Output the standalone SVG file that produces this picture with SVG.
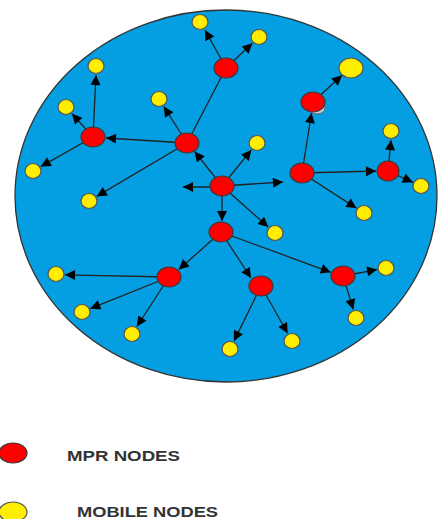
<svg xmlns="http://www.w3.org/2000/svg" width="438" height="519" viewBox="0 0 438 519">
<defs>
<style>
.area{fill:#049fe2;stroke:#333;stroke-width:1.3}
.mpr{fill:#f00;stroke:#3a3a3a;stroke-width:1.2}
.mob{fill:#ffee00;stroke:#555;stroke-width:1.2}
.c line{stroke:#222;stroke-width:1.3;marker-end:url(#ah)}
.c line.plain{marker-end:none}
.lbl{font-family:"Liberation Sans",Arial,sans-serif;font-weight:bold;font-size:15.5px;fill:#333}
</style>
<marker id="ah" viewBox="0 0 10 10" refX="10" refY="5" markerUnits="userSpaceOnUse" markerWidth="12" markerHeight="10" orient="auto">
<path d="M0,0 L10,5 L0,10 z" fill="#000"/>
</marker>
</defs>
<rect width="438" height="519" fill="#fff"/>
<ellipse class="area" cx="226" cy="196" rx="211" ry="186"/>
<ellipse cx="317" cy="108" rx="8" ry="6" fill="#ccc" stroke="#666" stroke-width="1"/>
<g id="connectors" class="c">
<line x1="226" y1="68" x2="205" y2="30"/>
<line x1="226" y1="68" x2="252.4" y2="43.2"/>
<line class="plain" x1="187" y1="143" x2="226" y2="68"/>
<line x1="187" y1="143" x2="106" y2="138"/>
<line x1="93" y1="137" x2="96" y2="75"/>
<line x1="93" y1="137" x2="72" y2="113.8"/>
<line x1="93" y1="137" x2="40.8" y2="166.6"/>
<line x1="187" y1="143" x2="163.8" y2="106.6"/>
<line x1="187" y1="143" x2="96.7" y2="196.4"/>
<line x1="222" y1="186" x2="194.6" y2="151.5"/>
<line x1="222" y1="187" x2="183" y2="187"/>
<line x1="222" y1="186" x2="283" y2="182"/>
<line x1="222" y1="186" x2="251.3" y2="150"/>
<line x1="222" y1="186" x2="268.3" y2="227"/>
<line x1="222" y1="186" x2="222" y2="221"/>
<line x1="302" y1="173" x2="311.5" y2="113"/>
<line x1="302" y1="173" x2="376" y2="171"/>
<line x1="302" y1="173" x2="356.4" y2="208.1"/>
<line x1="313" y1="102" x2="342" y2="75.3"/>
<line x1="388" y1="171" x2="391" y2="140"/>
<line x1="388" y1="171" x2="412.8" y2="182.3"/>
<line x1="221" y1="232" x2="178.8" y2="269.5"/>
<line x1="221" y1="232" x2="251" y2="278"/>
<line x1="221" y1="232" x2="330.8" y2="272.3"/>
<line x1="169" y1="277" x2="65" y2="274.8"/>
<line x1="169" y1="277" x2="90.3" y2="308.6"/>
<line x1="169" y1="277" x2="136.9" y2="326.5"/>
<line x1="261" y1="286" x2="234" y2="340.9"/>
<line x1="261" y1="286" x2="287.6" y2="333.2"/>
<line x1="343" y1="276" x2="377.1" y2="269.6"/>
<line x1="343" y1="276" x2="353.3" y2="309.4"/>
</g>
<g id="mpr1"><ellipse class="mpr" cx="226" cy="68" rx="12" ry="10"/></g>
<g id="mpr2"><ellipse class="mpr" cx="93" cy="137" rx="12" ry="10"/></g>
<g id="mpr3"><ellipse class="mpr" cx="187" cy="143" rx="12" ry="10"/></g>
<g id="mpr4"><ellipse class="mpr" cx="222" cy="186" rx="12" ry="10"/></g>
<g id="mpr5"><ellipse class="mpr" cx="313" cy="102" rx="12" ry="10"/></g>
<g id="mpr6"><ellipse class="mpr" cx="302" cy="173" rx="12" ry="10"/></g>
<g id="mpr7"><ellipse class="mpr" cx="388" cy="171" rx="11" ry="10"/></g>
<g id="mpr8"><ellipse class="mpr" cx="221" cy="232" rx="12" ry="10"/></g>
<g id="mpr9"><ellipse class="mpr" cx="169" cy="277" rx="12" ry="10"/></g>
<g id="mpr10"><ellipse class="mpr" cx="261" cy="286" rx="12" ry="10"/></g>
<g id="mpr11"><ellipse class="mpr" cx="343" cy="276" rx="12" ry="10"/></g>
<g id="mob1"><ellipse class="mob" cx="200" cy="22" rx="8" ry="7.5"/></g>
<g id="mob2"><ellipse class="mob" cx="259" cy="37" rx="8" ry="7.5"/></g>
<g id="mob3"><ellipse class="mob" cx="96" cy="66" rx="8" ry="7.5"/></g>
<g id="mob4"><ellipse class="mob" cx="66" cy="107" rx="8" ry="7.5"/></g>
<g id="mob5"><ellipse class="mob" cx="159" cy="99" rx="8" ry="7.5"/></g>
<g id="mob6"><ellipse class="mob" cx="33" cy="171" rx="8" ry="7.5"/></g>
<g id="mob7"><ellipse class="mob" cx="89" cy="201" rx="8" ry="7.5"/></g>
<g id="mob8"><ellipse class="mob" cx="351" cy="68" rx="12" ry="10"/></g>
<g id="mob9"><ellipse class="mob" cx="257" cy="143" rx="8" ry="7.5"/></g>
<g id="mob10"><ellipse class="mob" cx="391" cy="131" rx="8" ry="7.5"/></g>
<g id="mob11"><ellipse class="mob" cx="421" cy="186" rx="8" ry="7.5"/></g>
<g id="mob12"><ellipse class="mob" cx="364" cy="213" rx="8" ry="7.5"/></g>
<g id="mob13"><ellipse class="mob" cx="275" cy="233" rx="8" ry="7.5"/></g>
<g id="mob14"><ellipse class="mob" cx="56" cy="274" rx="8" ry="7.5"/></g>
<g id="mob15"><ellipse class="mob" cx="82" cy="312" rx="8" ry="7.5"/></g>
<g id="mob16"><ellipse class="mob" cx="132" cy="334" rx="8" ry="7.5"/></g>
<g id="mob17"><ellipse class="mob" cx="230" cy="349" rx="8" ry="7.5"/></g>
<g id="mob18"><ellipse class="mob" cx="292" cy="341" rx="8" ry="7.5"/></g>
<g id="mob19"><ellipse class="mob" cx="386" cy="268" rx="8" ry="7.5"/></g>
<g id="mob20"><ellipse class="mob" cx="356" cy="318" rx="8" ry="7.5"/></g>
<g id="legend-mpr">
<ellipse class="mpr" cx="13" cy="453" rx="14" ry="10"/>
<text class="lbl" x="67" y="461" textLength="113" lengthAdjust="spacingAndGlyphs">MPR NODES</text>
</g>
<g id="legend-mobile">
<ellipse class="mob" cx="13" cy="512" rx="14" ry="10"/>
<text class="lbl" x="77" y="517" textLength="141" lengthAdjust="spacingAndGlyphs">MOBILE NODES</text>
</g>
</svg>
